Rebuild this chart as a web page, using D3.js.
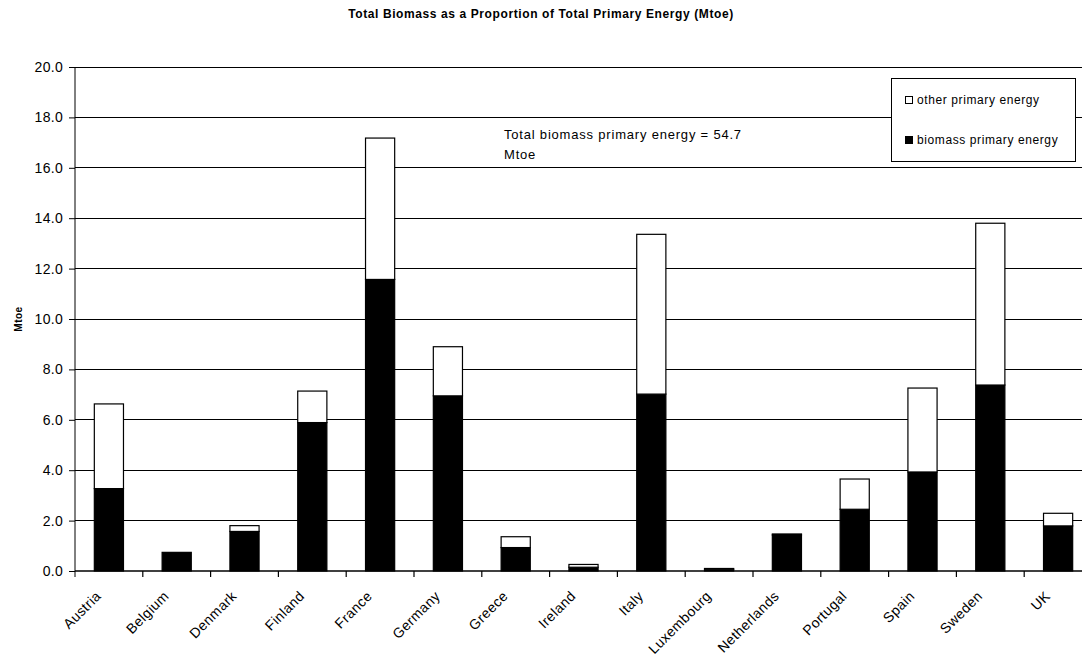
<!DOCTYPE html>
<html>
<head>
<meta charset="utf-8">
<script src="https://cdn.jsdelivr.net/npm/d3@7"></script>
<style>
  html, body { margin: 0; padding: 0; background: #fff; }
  svg { display: block; font-family: "Liberation Sans", Arial, sans-serif; }
</style>
</head>
<body>
<svg id="chart" width="1082" height="666"></svg>
<script>
// Countries and primary energy split (Mtoe)
const countries = ["Austria", "Belgium", "Denmark", "Finland", "France", "Germany", "Greece",
  "Ireland", "Italy", "Luxembourg", "Netherlands", "Portugal", "Spain", "Sweden", "UK"];
const biomassEnergy = [3.27, 0.74, 1.57, 5.89, 11.57, 6.95, 0.93, 0.15, 7.02, 0.07, 1.43, 2.45, 3.93, 7.38, 1.79];
const otherEnergy   = [3.36, 0.00, 0.23, 1.25, 5.61, 1.95, 0.43, 0.11, 6.34, 0.03, 0.04, 1.20, 3.33, 6.42, 0.50];
const seriesNames = ["biomass primary energy", "other primary energy"];
const yTicks = [0, 2, 4, 6, 8, 10, 12, 14, 16, 18, 20];
const titleText = "Total Biomass as a Proportion of Total Primary Energy (Mtoe)";
const noteLines = ["Total biomass primary energy = 54.7", "Mtoe"];

const svg = d3.select("#chart");
const margin = { left: 75, top: 67, right: 1092, bottom: 571 };

const x = d3.scaleBand().domain(countries).range([margin.left, margin.right]).paddingInner(0.57).paddingOuter(0.285);
const xb = d3.scaleBand().domain(countries).range([margin.left, margin.right]);
const y = d3.scaleLinear().domain([0, 20]).range([margin.bottom, margin.top]);

const rows = countries.map((c, i) => ({ country: c, biomass: biomassEnergy[i], other: otherEnergy[i] }));
const stack = d3.stack().keys(["biomass", "other"]);
const layers = stack(rows);
const fills = { biomass: "#000", other: "#fff" };

// Horizontal gridlines
svg.append("g")
  .selectAll("line")
  .data(yTicks.filter(t => t > 0))
  .join("line")
  .attr("x1", margin.left).attr("x2", margin.right)
  .attr("y1", d => y(d)).attr("y2", d => y(d))
  .attr("stroke", "#000").attr("stroke-width", 1).attr("shape-rendering", "crispEdges");

// Stacked bars
svg.append("g")
  .selectAll("g")
  .data(layers)
  .join("g")
  .attr("fill", d => fills[d.key])
  .selectAll("rect")
  .data(d => d.filter(s => s[1] - s[0] > 0))
  .join("rect")
  .attr("x", d => x(d.data.country))
  .attr("width", x.bandwidth())
  .attr("y", d => y(d[1]))
  .attr("height", d => y(d[0]) - y(d[1]))
  .attr("stroke", "#000").attr("stroke-width", 1.2);

// Y axis
const yAxis = svg.append("g")
  .attr("transform", `translate(${margin.left},0)`)
  .call(d3.axisLeft(y).tickValues(yTicks).tickFormat(d3.format(".1f")).tickSize(6).tickPadding(6));
yAxis.select(".domain").attr("stroke", "#000").attr("d", `M0,${margin.bottom + 6}V${margin.top}`);
yAxis.selectAll("text").attr("font-size", 14).attr("letter-spacing", 0.3)
  .attr("font-family", "Liberation Sans, Arial, sans-serif").attr("fill", "#000");
yAxis.selectAll(".tick line").attr("stroke", "#000");

// X axis with ticks at category boundaries
const xAxisG = svg.append("g").attr("transform", `translate(0,${margin.bottom})`);
xAxisG.append("line").attr("x1", margin.left).attr("x2", margin.right).attr("y1", 0).attr("y2", 0)
  .attr("stroke", "#000").attr("stroke-width", 1.5);
xAxisG.selectAll("line.tk")
  .data(countries.slice(1))
  .join("line").attr("class", "tk")
  .attr("x1", d => xb(d)).attr("x2", d => xb(d))
  .attr("y1", 0).attr("y2", 6).attr("stroke", "#000").attr("stroke-width", 1.2);
xAxisG.selectAll("text")
  .data(countries)
  .join("text")
  .attr("transform", d => `translate(${xb(d) + xb.bandwidth() / 2 - 7},${26}) rotate(-45)`)
  .attr("text-anchor", "end")
  .attr("font-size", 14)
  .attr("letter-spacing", 0.4)
  .attr("fill", "#000")
  .text(d => d);

// Y axis title
svg.append("text")
  .attr("transform", `translate(22,${(margin.top + margin.bottom) / 2}) rotate(-90)`)
  .attr("text-anchor", "middle")
  .attr("font-size", 10).attr("font-weight", "bold").attr("letter-spacing", 0.5)
  .text("Mtoe");

// Chart title
svg.append("text")
  .attr("x", 541).attr("y", 18)
  .attr("text-anchor", "middle")
  .attr("font-size", 12).attr("font-weight", "bold").attr("letter-spacing", 0.6)
  .text(titleText);

// Annotation
const note = svg.append("text").attr("x", 504).attr("y", 139).attr("font-size", 13)
  .attr("letter-spacing", 0.8).attr("fill", "#000");
note.selectAll("tspan").data(noteLines).join("tspan")
  .attr("x", 504).attr("dy", (d, i) => i === 0 ? 0 : 20).text(d => d);

// Legend
const legend = svg.append("g");
legend.append("rect").attr("x", 891.5).attr("y", 78.5).attr("width", 184).attr("height", 83)
  .attr("fill", "#fff").attr("stroke", "#000").attr("stroke-width", 1);
const legendItems = [seriesNames[1], seriesNames[0]];
const legendFill = ["#fff", "#000"];
legendItems.forEach((name, i) => {
  const ly = 100 + i * 40;
  legend.append("rect").attr("x", 905.5).attr("y", ly - 3.5).attr("width", 7).attr("height", 7)
    .attr("fill", legendFill[i]).attr("stroke", "#000").attr("stroke-width", 1);
  legend.append("text").attr("x", 917).attr("y", ly + 4).attr("font-size", 12)
    .attr("letter-spacing", 0.6).text(name);
});
</script>
</body>
</html>
